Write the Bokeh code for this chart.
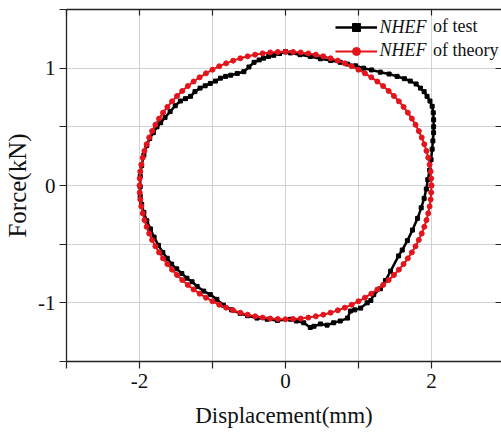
from bokeh.plotting import figure
from bokeh.models import Range1d, FixedTicker, LinearAxis, Legend, LegendItem, Label
from bokeh.embed import file_html
from bokeh.resources import INLINE

# ---- data ----
test_x = [0.00, 0.07, 0.20, 0.34, 0.48, 0.62, 0.75, 0.85, 0.96, 1.07, 1.18, 1.30, 1.42, 1.53, 1.63, 1.71,
          1.79, 1.85, 1.90, 1.94, 1.98, 2.01, 2.025, 2.03, 2.03, 2.03, 2.02, 2.01, 1.995, 1.975, 1.95, 1.93,
          1.90, 1.86, 1.81, 1.74, 1.67, 1.60, 1.55, 1.44, 1.37, 1.30, 1.21, 1.17, 1.12, 1.03, 0.95, 0.89,
          0.85, 0.75, 0.66, 0.57, 0.48, 0.39, 0.34, 0.25, 0.15, 0.07, -0.11, -0.25, -0.39, -0.52, -0.62,
          -0.74, -0.85, -0.94, -1.03, -1.12, -1.21, -1.28, -1.35, -1.42, -1.49, -1.56, -1.62, -1.68, -1.74,
          -1.80, -1.85, -1.90, -1.94, -1.97, -1.99, -1.99, -1.99, -1.97, -1.94, -1.90, -1.86, -1.81, -1.76,
          -1.71, -1.65, -1.58, -1.51, -1.44, -1.37, -1.30, -1.24, -1.17, -1.10, -1.03, -0.96, -0.89, -0.82,
          -0.75, -0.66, -0.57, -0.50, -0.43, -0.36, -0.30, -0.23, -0.16, -0.08, 0.00]
test_y = [1.14, 1.13, 1.115, 1.10, 1.08, 1.065, 1.05, 1.035, 1.02, 1.00, 0.985, 0.966, 0.95, 0.93, 0.91, 0.89,
          0.865, 0.83, 0.80, 0.76, 0.72, 0.675, 0.62, 0.56, 0.50, 0.45, 0.38, 0.31, 0.22, 0.13, 0.05, -0.03,
          -0.11, -0.19, -0.28, -0.38, -0.47, -0.55, -0.60, -0.73, -0.81, -0.88, -0.93, -0.98, -1.00, -1.045, -1.06, -1.07,
          -1.13, -1.155, -1.17, -1.19, -1.18, -1.20, -1.21, -1.17, -1.155, -1.14, -1.15, -1.14, -1.13, -1.11, -1.09,
          -1.06, -1.02, -0.97, -0.93, -0.90, -0.86, -0.82, -0.79, -0.75, -0.71, -0.67, -0.62, -0.57, -0.51,
          -0.44, -0.37, -0.30, -0.23, -0.16, -0.09, -0.01, 0.08, 0.17, 0.26, 0.34, 0.40, 0.45, 0.50,
          0.535, 0.58, 0.63, 0.68, 0.72, 0.74, 0.76, 0.80, 0.83, 0.85, 0.87, 0.89, 0.915, 0.93,
          0.94, 0.955, 0.97, 1.01, 1.05, 1.07, 1.085, 1.10, 1.11, 1.125, 1.14]

theory_x_q1 = [2.000, 1.997, 1.989, 1.975, 1.956, 1.932, 1.902, 1.867, 1.827, 1.782, 1.732, 1.677, 1.618, 1.554, 1.486,
               1.414, 1.338, 1.259, 1.176, 1.089, 1.000, 0.908, 0.813, 0.717, 0.618, 0.518, 0.416, 0.313, 0.209, 0.105]
theory_y_q1 = [0.000, 0.060, 0.119, 0.178, 0.237, 0.295, 0.352, 0.409, 0.464, 0.518, 0.570, 0.621, 0.670, 0.717, 0.763,
               0.806, 0.847, 0.886, 0.922, 0.956, 0.987, 1.016, 1.041, 1.064, 1.084, 1.101, 1.115, 1.126, 1.134, 1.138]
theory_x_q2 = [0.000, -0.105, -0.209, -0.313, -0.416, -0.518, -0.618, -0.717, -0.813, -0.908, -1.000, -1.089, -1.176,
               -1.259, -1.338, -1.414, -1.486, -1.554, -1.618, -1.677, -1.732, -1.782, -1.827, -1.867, -1.902, -1.932,
               -1.956, -1.975, -1.989, -1.997]
theory_y_q2 = [1.140, 1.138, 1.134, 1.126, 1.115, 1.101, 1.084, 1.064, 1.041, 1.016, 0.987, 0.956, 0.922, 0.886, 0.847,
               0.806, 0.763, 0.717, 0.670, 0.621, 0.570, 0.518, 0.464, 0.409, 0.352, 0.295, 0.237, 0.178, 0.119, 0.060]
theory_x_q3 = [-2.000, -1.997, -1.989, -1.975, -1.956, -1.932, -1.902, -1.867, -1.827, -1.782, -1.732, -1.677, -1.618,
               -1.554, -1.486, -1.414, -1.338, -1.259, -1.176, -1.089, -1.000, -0.908, -0.813, -0.717, -0.618, -0.518,
               -0.416, -0.313, -0.209, -0.105]
theory_y_q3 = [0.000, -0.060, -0.119, -0.178, -0.237, -0.295, -0.352, -0.409, -0.464, -0.518, -0.570, -0.621, -0.670,
               -0.717, -0.763, -0.806, -0.847, -0.886, -0.922, -0.956, -0.987, -1.016, -1.041, -1.064, -1.084, -1.101,
               -1.115, -1.126, -1.134, -1.138]
theory_x_q4 = [0.000, 0.105, 0.209, 0.313, 0.416, 0.518, 0.618, 0.717, 0.813, 0.908, 1.000, 1.089, 1.176, 1.259, 1.338,
               1.414, 1.486, 1.554, 1.618, 1.677, 1.732, 1.782, 1.827, 1.867, 1.902, 1.932, 1.956, 1.975, 1.989, 1.997, 2.000]
theory_y_q4 = [-1.140, -1.138, -1.134, -1.126, -1.115, -1.101, -1.084, -1.064, -1.041, -1.016, -0.987, -0.956, -0.922,
               -0.886, -0.847, -0.806, -0.763, -0.717, -0.670, -0.621, -0.570, -0.518, -0.464, -0.409, -0.352, -0.295,
               -0.237, -0.178, -0.119, -0.060, 0.000]

theory_x = theory_x_q1 + theory_x_q2 + theory_x_q3 + theory_x_q4
theory_y = theory_y_q1 + theory_y_q2 + theory_y_q3 + theory_y_q4

x_all_ticks = [-3, -2, -1, 0, 1, 2, 3]
x_labeled_ticks = [-2, 0, 2]
x_tick_text = {-2: "-2", 0: "0", 2: "2"}
x_unlabeled_ticks = [-3, -1, 1, 3]
y_all_ticks = [-1.5, -1.0, -0.5, 0.0, 0.5, 1.0, 1.5]
y_labeled_ticks = [-1, 0, 1]
y_tick_text = {-1: "-1", 0: "0", 1: "1"}
y_unlabeled_ticks = [-1.5, -0.5, 0.5, 1.5]

series_names = ["NHEF", "NHEF"]
series_suffix = ["of test", "of theory"]

RED = "#e3141c"
FONT = "Liberation Serif"
AXC = "#222222"

p = figure(width=501, height=436, output_backend="svg", toolbar_location=None,
           x_range=Range1d(-3, 2.96), y_range=Range1d(-1.5, 1.5),
           min_border_left=66, min_border_top=9, min_border_right=0, min_border_bottom=75,
           x_axis_label="Displacement(mm)", y_axis_label="Force(kN)")
p.outline_line_color = None
p.background_fill_color = "white"
p.border_fill_color = "white"

p.xaxis.ticker = FixedTicker(ticks=x_labeled_ticks, minor_ticks=x_unlabeled_ticks)
p.yaxis.ticker = FixedTicker(ticks=y_labeled_ticks, minor_ticks=y_unlabeled_ticks)
p.xaxis.major_label_overrides = x_tick_text
p.yaxis.major_label_overrides = y_tick_text

for ax in list(p.xaxis) + list(p.yaxis):
    ax.axis_line_color = AXC
    ax.axis_line_width = 1.3
    ax.major_tick_line_color = AXC
    ax.major_tick_line_width = 1.2
    ax.major_tick_in = 0
    ax.major_tick_out = 7
    ax.minor_tick_line_color = AXC
    ax.minor_tick_line_width = 1.2
    ax.minor_tick_in = 0
    ax.minor_tick_out = 7
    ax.major_label_text_font = FONT
    ax.major_label_text_font_size = "21px"
    ax.major_label_text_color = "#111111"
    ax.axis_label_text_font = FONT
    ax.axis_label_text_font_style = "normal"
    ax.axis_label_text_color = "#111111"

p.xaxis.major_label_standoff = 5
p.xaxis.axis_label_text_font_size = "23px"
p.xaxis.axis_label_standoff = 12
p.yaxis.major_label_standoff = 4
p.yaxis.axis_label_text_font_size = "25px"
p.yaxis.axis_label_standoff = 4

p.xgrid.ticker = FixedTicker(ticks=x_all_ticks)
p.ygrid.ticker = FixedTicker(ticks=y_all_ticks)
p.grid.grid_line_color = "#d2d2d2"
p.grid.grid_line_width = 1

top_axis = LinearAxis(ticker=FixedTicker(ticks=[], minor_ticks=x_all_ticks),
                      minor_tick_in=6, minor_tick_out=0, major_tick_in=0, major_tick_out=0,
                      major_label_standoff=0, axis_line_color=AXC, axis_line_width=1.3,
                      minor_tick_line_color=AXC, minor_tick_line_width=1.2)
p.add_layout(top_axis, "above")
right_axis = LinearAxis(ticker=FixedTicker(ticks=[], minor_ticks=y_all_ticks),
                        minor_tick_in=6, minor_tick_out=0, major_tick_in=0, major_tick_out=0,
                        major_label_standoff=0, axis_line_color=None,
                        minor_tick_line_color=AXC, minor_tick_line_width=1.2)
p.add_layout(right_axis, "right")

r_test_line = p.line(test_x, test_y, line_color="black", line_width=2.5)
r_test_pts = p.scatter(test_x, test_y, marker="square", size=4, color="black")
r_th_line = p.line(theory_x, theory_y, line_color=RED, line_width=2)
r_th_pts = p.scatter(theory_x, theory_y, marker="circle", size=5, color=RED)

leg = Legend(items=[LegendItem(label=series_suffix[0], renderers=[r_test_line, r_test_pts]),
                    LegendItem(label=series_suffix[1], renderers=[r_th_line, r_th_pts])],
             location=(269, 300), padding=0, margin=0, spacing=3, glyph_width=42, glyph_height=20,
             label_height=20, label_standoff=56, border_line_color=None, background_fill_alpha=0,
             label_text_font=FONT, label_text_font_size="18px", label_text_color="#111111")
p.add_layout(leg)

label_y = [1.352, 1.157]
for name, ly in zip(series_names, label_y):
    p.add_layout(Label(x=1.29, y=ly, text=name, text_font=FONT, text_font_style="italic",
                       text_font_size="18px", text_baseline="middle", text_color="#111111"))

open("out.html", "w").write(file_html(p, INLINE))
